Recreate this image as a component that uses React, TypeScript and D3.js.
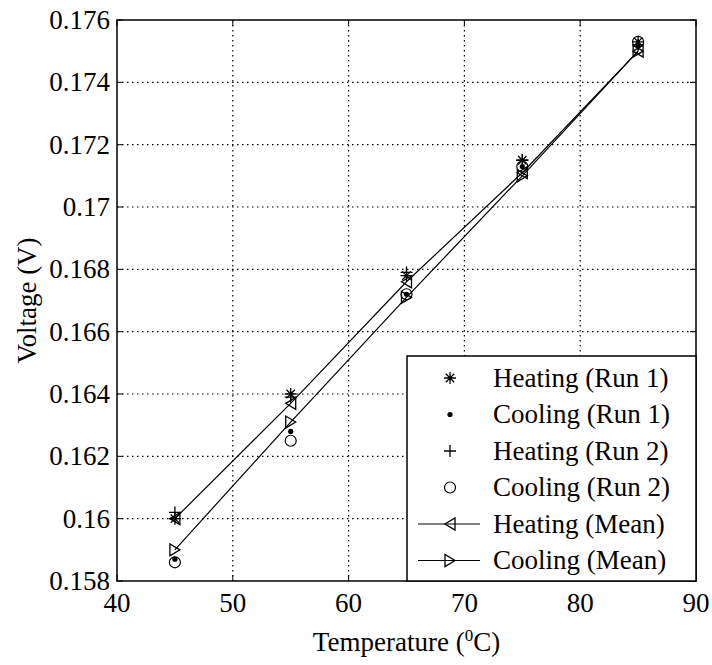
import * as d3 from "d3";

const temps = [45, 55, 65, 75, 85];
const heatingRun1 = [0.1600, 0.1640, 0.1678, 0.1715, 0.1753];
const coolingRun1 = [0.1587, 0.1628, 0.1672, 0.1713, 0.1752];
const heatingRun2 = [0.1602, 0.1639, 0.1679, 0.1715, 0.1752];
const coolingRun2 = [0.1586, 0.1625, 0.1672, 0.1713, 0.1753];
const heatingMean = [0.1600, 0.1637, 0.1676, 0.1711, 0.1750];
const coolingMean = [0.1590, 0.1631, 0.1671, 0.1710, 0.1750];

const xTicks = [40, 50, 60, 70, 80, 90];
const yTicks = [0.158, 0.16, 0.162, 0.164, 0.166, 0.168, 0.17, 0.172, 0.174, 0.176];

const seriesNames = [
    "Heating (Run 1)",
    "Cooling (Run 1)",
    "Heating (Run 2)",
    "Cooling (Run 2)",
    "Heating (Mean)",
    "Cooling (Mean)",
];
const kinds = ["asterisk", "dot", "plus", "circle", "triLeft", "triRight"];
const allSeries = [heatingRun1, coolingRun1, heatingRun2, coolingRun2, heatingMean, coolingMean];

const WIDTH = 712;
const HEIGHT = 665;
const FS = 27;
const FONT = "Times New Roman";

// marker paths, centred on 0,0
const markerPath = (kind: string): string => {
    const s = 6;
    const a = 4.2;
    switch (kind) {
        case "asterisk":
            return `M${-s},0H${s}M0,${-s}V${s}M${-a},${-a}L${a},${a}M${-a},${a}L${a},${-a}`;
        case "plus":
            return `M${-s},0H${s}M0,${-s}V${s}`;
        case "triLeft":
            return `M-5,0L5,-6L5,6Z`;
        case "triRight":
            return `M5,0L-5,-6L-5,6Z`;
        default:
            return "";
    }
};

const Marker = ({ kind, x, y }: { kind: string; x: number; y: number }) => {
    if (kind === "dot") return <circle cx={x} cy={y} r={2.6} fill="#000" />;
    if (kind === "circle")
        return <circle cx={x} cy={y} r={5.5} fill="none" stroke="#000" strokeWidth={1.2} />;
    return (
        <path
            d={markerPath(kind)}
            transform={`translate(${x},${y})`}
            fill="none"
            stroke="#000"
            strokeWidth={1.3}
        />
    );
};

const App = () => {
    const margin = { top: 20, bottom: 84, left: 117, right: 16 };
    const boundsWidth = WIDTH - margin.left - margin.right;
    const boundsHeight = HEIGHT - margin.top - margin.bottom;

    const scaleX = d3.scaleLinear().domain([40, 90]).range([0, boundsWidth]);
    const scaleY = d3.scaleLinear().domain([0.158, 0.176]).range([boundsHeight, 0]);

    const lineGen = d3.line<number>()
        .x((_, i) => scaleX(temps[i]))
        .y(d => scaleY(d));

    const tl = 6;
    const legW = 289;
    const legH = 225;

    return (
        <svg
            width={WIDTH}
            height={HEIGHT}
            style={{ position: "absolute", left: 0, top: 0, background: "#fff" }}
        >
            <rect width={WIDTH} height={HEIGHT} fill="#fff" />
            <g transform={`translate(${margin.left}, ${margin.top})`}>
                {/* dotted grid */}
                {xTicks.slice(1, -1).map(t => (
                    <line key={"gx" + t} x1={scaleX(t)} x2={scaleX(t)} y1={0} y2={boundsHeight}
                        stroke="#000" strokeWidth={1.2} strokeDasharray="1.5,3.5" />
                ))}
                {yTicks.slice(1, -1).map(t => (
                    <line key={"gy" + t} y1={scaleY(t)} y2={scaleY(t)} x1={0} x2={boundsWidth}
                        stroke="#000" strokeWidth={1.2} strokeDasharray="1.5,3.5" />
                ))}

                {/* ticks inside the box, all four sides */}
                {xTicks.map(t => (
                    <g key={"tx" + t} stroke="#000">
                        <line x1={scaleX(t)} x2={scaleX(t)} y1={boundsHeight} y2={boundsHeight - tl} />
                        <line x1={scaleX(t)} x2={scaleX(t)} y1={0} y2={tl} />
                    </g>
                ))}
                {yTicks.map(t => (
                    <g key={"ty" + t} stroke="#000">
                        <line y1={scaleY(t)} y2={scaleY(t)} x1={0} x2={tl} />
                        <line y1={scaleY(t)} y2={scaleY(t)} x1={boundsWidth} x2={boundsWidth - tl} />
                    </g>
                ))}

                {/* tick labels */}
                {xTicks.map(t => (
                    <text key={"xl" + t} x={scaleX(t)} y={boundsHeight + 31}
                        textAnchor="middle" fontFamily={FONT} fontSize={FS}>
                        {String(t)}
                    </text>
                ))}
                {yTicks.map(t => (
                    <text key={"yl" + t} x={-7} y={scaleY(t)} dy="0.33em"
                        textAnchor="end" fontFamily={FONT} fontSize={FS}>
                        {String(+t.toFixed(3))}
                    </text>
                ))}

                {/* mean lines */}
                {[heatingMean, coolingMean].map((vals, i) => (
                    <path key={"ln" + i} d={lineGen(vals) || ""} fill="none"
                        stroke="#000" strokeWidth={1.2} />
                ))}

                {/* markers */}
                {allSeries.map((vals, si) =>
                    vals.map((v, i) => (
                        <Marker key={si + "-" + i} kind={kinds[si]} x={scaleX(temps[i])} y={scaleY(v)} />
                    ))
                )}

                {/* axes box */}
                <rect width={boundsWidth} height={boundsHeight} fill="none"
                    stroke="#000" strokeWidth={1.5} />

                {/* legend */}
                <g transform={`translate(${boundsWidth - legW}, ${boundsHeight - legH})`}>
                    <rect width={legW} height={legH} fill="#fff" stroke="#000" strokeWidth={1.5} />
                    {seriesNames.map((name, i) => {
                        const y = 22 + i * 36.5;
                        return (
                            <g key={name}>
                                {i >= 4 && (
                                    <line x1={11} x2={73} y1={y} y2={y} stroke="#000" strokeWidth={1.2} />
                                )}
                                <Marker kind={kinds[i]} x={43} y={y} />
                                <text x={86} y={y} dy="0.33em" fontFamily={FONT} fontSize={FS}>{name}</text>
                            </g>
                        );
                    })}
                </g>
            </g>

            {/* axis titles */}
            <text x={margin.left + boundsWidth / 2} y={651} textAnchor="middle"
                fontFamily={FONT} fontSize={FS}>
                <tspan>Temperature (</tspan>
                <tspan dy={-10} fontSize={17}>0</tspan>
                <tspan dy={10}>C)</tspan>
            </text>
            <text
                transform={`translate(36, ${margin.top + boundsHeight / 2}) rotate(-90)`}
                textAnchor="middle"
                fontFamily={FONT}
                fontSize={FS}
            >
                Voltage (V)
            </text>
        </svg>
    );
};

export default App;
